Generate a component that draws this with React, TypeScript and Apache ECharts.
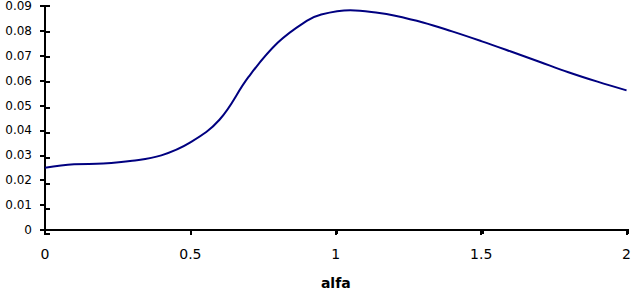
import React, { useEffect, useRef } from "react";
import * as echarts from "echarts";

const alfaValues = [0, 0.1, 0.2, 0.3, 0.4, 0.5, 0.6, 0.7, 0.8, 0.9, 0.95, 1.05, 1.15, 1.2, 1.3, 1.4, 1.5, 1.6, 1.7, 1.8, 1.9, 2.0];
const seriesValues = [0.025, 0.0264, 0.0267, 0.0278, 0.03, 0.0352, 0.0443, 0.0615, 0.0752, 0.084, 0.0866, 0.0883, 0.0872, 0.0862, 0.0834, 0.0798, 0.0759, 0.0718, 0.0676, 0.0634, 0.0596, 0.0561];
const xTitle = "alfa";

export default function App() {
  const ref = useRef<HTMLDivElement>(null);
  useEffect(() => {
    document.body.style.margin = "0";
    const chart = echarts.init(ref.current!, null, { renderer: "svg" });
    const gridDef = { left: 45, right: 6, top: 6, bottom: 61, containLabel: false };
    const lineStyle = { color: "#000", width: 2 };
    chart.setOption({
      animation: false,
      backgroundColor: "#fff",
      grid: [gridDef, { ...gridDef }],
      xAxis: [
        {
          type: "value", gridIndex: 0, min: 0, max: 2, interval: 0.5,
          axisLine: { show: true, lineStyle },
          axisTick: { show: true, inside: false, length: 5, lineStyle },
          axisLabel: { color: "#000", fontFamily: "DejaVu Sans", fontSize: 14, margin: 17 },
          splitLine: { show: false },
          name: xTitle, nameLocation: "middle", nameGap: 46,
          nameTextStyle: { color: "#000", fontFamily: "DejaVu Sans", fontWeight: "bold", fontSize: 14 },
        },
        {
          type: "value", gridIndex: 1, min: 0, max: 2, interval: 0.5,
          axisLine: { show: false },
          axisTick: { show: true, inside: true, length: 5, lineStyle },
          axisLabel: { show: false }, splitLine: { show: false },
        },
      ],
      yAxis: [
        {
          type: "value", gridIndex: 0, min: 0, max: 0.09, interval: 0.01,
          axisLine: { show: true, lineStyle },
          axisTick: { show: true, inside: false, length: 5, lineStyle },
          axisLabel: {
            color: "#000", fontFamily: "DejaVu Sans", fontSize: 12, margin: 13,
            formatter: (v: number) => String(+v.toFixed(2)),
          },
          splitLine: { show: false },
        },
        {
          type: "value", gridIndex: 1, min: 0, max: 0.09, interval: 0.01,
          axisLine: { show: false },
          axisTick: { show: true, inside: true, length: 5, lineStyle },
          axisLabel: { show: false }, splitLine: { show: false },
        },
      ],
      series: [
        {
          type: "line",
          xAxisIndex: 0, yAxisIndex: 0,
          data: alfaValues.map((x, i) => [x, seriesValues[i]]),
          smooth: 0.4,
          showSymbol: false,
          lineStyle: { color: "#000080", width: 2 },
        },
      ],
    });
    return () => chart.dispose();
  }, []);
  return <div ref={ref} style={{ position: "fixed", left: 0, top: 0, width: 634, height: 295 }} />;
}
